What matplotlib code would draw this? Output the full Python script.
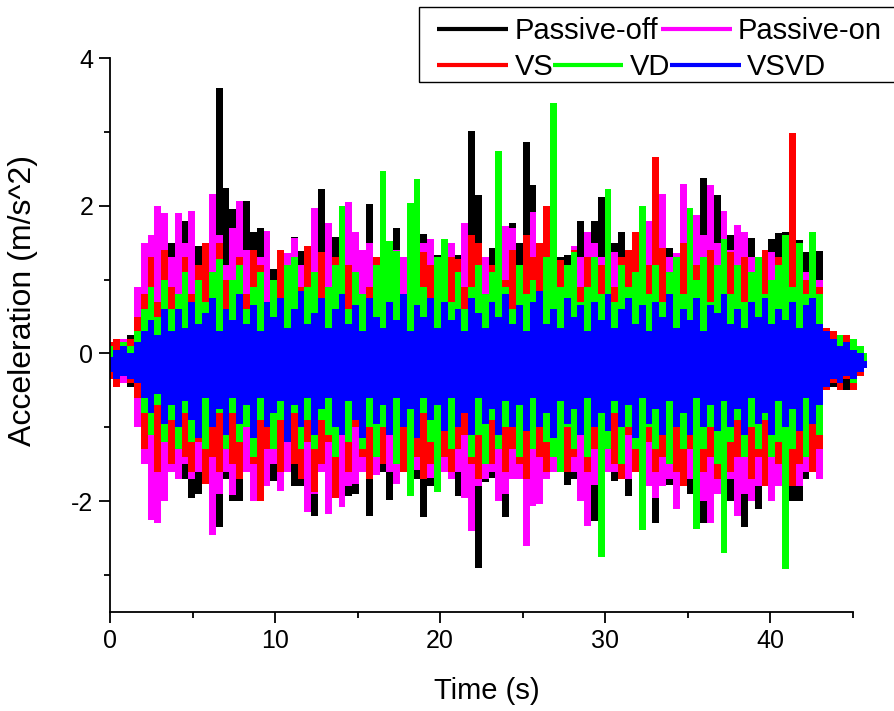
import numpy as np
import matplotlib
matplotlib.use("Agg")
import matplotlib.pyplot as plt
from matplotlib.lines import Line2D
from matplotlib.patches import Rectangle
from matplotlib.ticker import MultipleLocator

plt.rcParams["font.family"] = ["Liberation Sans", "DejaVu Sans"]
plt.rcParams["axes.unicode_minus"] = False

# sample grid (s) and upper / lower envelopes (m/s^2)
time = np.linspace(0, 45.9, 112)

passive_off_hi = [
    0.05, 0.2, 0.1, 0.25, 0.3, 0.7, 1.1, 1.3, 1.2, 1.5,
    1.82, 1.8, 1.1, 1.45, 1.0, 1.3, 3.6, 2.24, 1.96, 1.5,
    2.07, 1.65, 1.7, 1.1, 1.15, 1.0, 1.2, 1.57, 1.39, 1.0,
    1.4, 2.23, 1.31, 1.57, 1.2, 2.05, 1.3, 1.1, 2.03, 1.2,
    1.0, 1.3, 1.7, 1.2, 1.1, 1.3, 1.62, 1.2, 1.33, 1.1,
    1.2, 1.33, 1.2, 3.01, 2.15, 1.1, 1.43, 1.2, 1.5, 1.76,
    1.49, 2.86, 2.28, 1.3, 1.2, 1.1, 1.3, 1.33, 1.0, 1.79,
    1.4, 1.79, 2.12, 1.3, 1.5, 1.65, 1.2, 1.4, 1.2, 1.3,
    1.4, 1.2, 1.43, 1.3, 1.4, 1.5, 1.6, 2.38, 2.0, 2.15,
    1.7, 1.6, 1.3, 1.2, 1.56, 1.1, 1.26, 1.55, 1.63, 1.65,
    1.43, 1.53, 1.38, 1.2, 1.39, 0.35, 0.3, 0.25, 0.2, 0.15,
    0.1, -0.05]
passive_off_lo = [
    -0.3, -0.45, -0.35, -0.45, -0.5, -0.9, -1.5, -1.8, -1.6, -1.4,
    -1.57, -1.7, -1.96, -1.9, -1.76, -1.6, -2.35, -1.7, -2.0, -2.0,
    -1.5, -1.7, -1.6, -1.68, -1.73, -1.5, -1.6, -1.8, -1.8, -1.5,
    -2.2, -1.6, -1.7, -1.5, -1.6, -1.93, -1.9, -1.6, -2.2, -1.5,
    -1.6, -1.99, -1.5, -1.6, -1.4, -1.7, -2.21, -1.8, -1.5, -1.6,
    -1.7, -1.93, -1.6, -1.8, -2.9, -1.74, -1.69, -1.6, -2.21, -1.52,
    -1.5, -1.64, -1.7, -1.5, -1.6, -1.5, -1.6, -1.78, -1.7, -1.92,
    -1.6, -2.27, -1.8, -1.6, -1.72, -1.6, -1.93, -1.5, -1.74, -1.6,
    -2.29, -1.7, -1.78, -1.43, -1.7, -1.9, -1.8, -2.3, -2.1, -1.8,
    -1.6, -2.0, -1.9, -2.35, -1.8, -2.1, -1.7, -1.9, -1.6, -1.7,
    -2.0, -2.0, -1.7, -1.6, -1.5, -0.5, -0.45, -0.4, -0.49, -0.4,
    -0.3, -0.2]

passive_on_hi = [
    0.0, 0.15, 0.2, 0.15, 0.9, 1.5, 1.6, 2.0, 1.9, 1.3,
    1.9, 1.5, 1.93, 1.2, 1.4, 2.16, 1.6, 1.2, 1.7, 2.07,
    1.4, 1.2, 1.3, 1.66, 1.0, 1.36, 1.36, 1.56, 1.2, 1.3,
    1.97, 1.3, 1.76, 1.3, 1.4, 2.05, 1.65, 1.4, 1.5, 1.3,
    1.2, 1.1, 1.4, 1.3, 1.2, 1.1, 1.49, 1.55, 1.3, 1.2,
    1.5, 1.2, 1.76, 1.5, 1.4, 1.3, 1.2, 1.1, 1.73, 1.7,
    1.2, 1.4, 1.92, 1.3, 1.2, 1.4, 1.1, 1.2, 1.45, 1.3,
    1.64, 1.5, 1.3, 1.2, 1.38, 1.3, 1.2, 1.3, 1.4, 1.8,
    1.5, 2.16, 1.3, 1.36, 2.3, 1.5, 1.88, 1.6, 2.28, 1.5,
    1.93, 1.4, 1.74, 1.65, 1.3, 1.3, 1.2, 1.38, 1.2, 1.3,
    1.3, 1.2, 1.1, 1.2, 1.0, 0.3, 0.2, 0.2, 0.15, 0.1,
    0.05, -0.05]
passive_on_lo = [
    -0.3, -0.35, -0.4, -0.35, -1.0, -1.5, -2.25, -2.3, -2.0, -1.6,
    -1.7, -1.5, -1.7, -1.6, -1.5, -2.46, -1.9, -1.6, -1.92, -1.7,
    -1.6, -2.0, -1.7, -1.8, -1.5, -1.86, -1.6, -1.5, -1.4, -2.15,
    -1.9, -1.6, -2.17, -1.6, -2.08, -1.8, -1.77, -1.6, -1.7, -1.65,
    -1.5, -1.6, -1.77, -1.5, -1.4, -1.58, -1.6, -1.69, -1.5, -1.6,
    -1.7, -1.6, -1.95, -2.4, -1.8, -1.7, -1.6, -2.0, -1.9, -1.7,
    -1.7, -2.61, -2.07, -2.04, -1.7, -1.61, -1.5, -1.47, -1.6, -2.0,
    -2.34, -1.78, -1.6, -1.6, -1.6, -1.5, -1.7, -1.6, -1.7, -1.8,
    -1.95, -1.8, -1.7, -2.1, -1.8, -1.7, -1.9, -2.0, -2.3, -1.9,
    -1.8, -1.7, -2.2, -1.9, -2.0, -1.8, -1.7, -2.0, -1.8, -1.6,
    -1.7, -1.8, -1.6, -1.5, -1.7, -0.45, -0.4, -0.45, -0.35, -0.45,
    -0.3, -0.2]

vs_hi = [
    0.15, 0.2, 0.05, 0.2, 0.5, 0.8, 1.3, 0.7, 1.4, 0.9,
    0.7, 1.3, 0.8, 1.2, 1.5, 0.8, 1.5, 1.0, 0.7, 1.3,
    0.8, 1.4, 1.2, 0.7, 1.0, 1.4, 0.8, 1.2, 0.9, 1.45,
    1.0, 1.38, 0.7, 1.3, 0.9, 1.2, 1.1, 0.8, 0.9, 1.3,
    1.4, 0.8, 1.2, 0.7, 1.1, 1.3, 1.38, 1.2, 0.8, 1.1,
    1.3, 1.28, 0.9, 1.6, 1.5, 0.8, 1.2, 0.7, 1.0, 1.4,
    0.9, 1.6, 1.3, 1.5, 1.99, 0.8, 1.26, 1.0, 1.4, 0.9,
    1.3, 0.8, 1.2, 1.5, 0.9, 1.3, 1.4, 1.65, 0.9, 1.2,
    2.66, 1.43, 1.0, 0.8, 1.5, 1.66, 1.2, 0.8, 1.4, 1.1,
    0.9, 1.38, 0.8, 1.3, 0.8, 1.2, 1.4, 0.9, 1.3, 1.4,
    2.99, 1.3, 1.0, 1.2, 0.9, 0.35, 0.3, 0.2, 0.25, 0.15,
    0.1, -0.05]
vs_lo = [
    -0.35, -0.45, -0.3, -0.4, -0.6, -1.3, -1.1, -1.6, -1.2, -1.5,
    -1.0, -1.4, -1.6, -1.2, -1.77, -1.4, -1.6, -1.1, -1.5, -1.7,
    -1.0, -1.5, -2.0, -1.3, -1.1, -1.6, -1.0, -1.5, -1.7, -1.2,
    -1.88, -1.5, -1.2, -1.96, -1.1, -1.6, -1.0, -1.4, -1.7, -1.2,
    -1.5, -1.0, -1.4, -1.6, -1.1, -1.4, -1.7, -1.5, -1.0, -1.4,
    -1.6, -1.3, -1.1, -1.5, -1.7, -1.2, -1.5, -1.0, -1.6, -1.3,
    -1.5, -1.7, -1.2, -1.4, -1.6, -1.0, -1.3, -1.6, -1.4, -1.1,
    -1.6, -1.3, -1.7, -1.2, -1.5, -1.7, -1.1, -1.6, -1.3, -1.2,
    -1.6, -1.4, -1.1, -1.6, -1.8, -1.3, -1.1, -1.6, -1.4, -1.7,
    -1.2, -1.6, -1.4, -1.1, -1.7, -1.4, -1.8, -1.2, -1.5, -1.3,
    -1.8, -1.5, -1.2, -1.6, -1.3, -0.5, -0.4, -0.49, -0.35, -0.49,
    -0.3, -0.2]

vd_hi = [
    0.1, 0.05, 0.15, 0.1, 0.3, 0.6, 0.9, 0.5, 1.0, 0.6,
    0.8, 1.1, 0.6, 1.0, 0.7, 1.1, 1.28, 0.6, 1.0, 1.2,
    0.6, 0.9, 1.1, 0.5, 1.0, 0.7, 1.2, 1.3, 0.6, 0.9,
    1.1, 0.7, 0.9, 1.2, 1.99, 0.6, 1.1, 0.8, 0.6, 1.2,
    2.47, 1.52, 1.39, 0.7, 2.04, 2.36, 0.9, 0.6, 1.3, 1.55,
    0.7, 1.1, 0.6, 0.9, 1.2, 0.8, 1.1, 2.74, 0.9, 0.6,
    1.2, 0.8, 1.0, 0.7, 1.3, 3.39, 0.9, 1.2, 1.37, 0.7,
    0.9, 1.3, 0.8, 2.23, 0.7, 1.2, 0.9, 1.1, 1.99, 0.8,
    1.2, 0.7, 1.1, 1.3, 0.8, 1.97, 1.0, 1.3, 0.7, 1.2,
    1.55, 0.8, 1.2, 0.7, 1.1, 1.3, 0.8, 1.0, 1.2, 1.6,
    0.9, 1.5, 0.8, 1.65, 0.8, 0.3, 0.2, 0.25, 0.15, 0.2,
    0.1, 0.0]
vd_lo = [
    -0.25, -0.35, -0.3, -0.35, -0.4, -0.8, -1.1, -0.7, -1.2, -0.9,
    -1.3, -0.8, -1.2, -0.9, -1.3, -1.0, -0.8, -1.3, -0.8, -1.2,
    -1.0, -1.4, -0.9, -0.8, -1.3, -0.9, -1.2, -0.8, -1.3, -0.9,
    -1.3, -0.9, -1.1, -1.4, -0.8, -1.2, -0.8, -1.3, -1.0, -1.4,
    -1.0, -0.8, -1.5, -1.0, -1.93, -1.1, -0.8, -1.2, -1.88, -0.9,
    -1.3, -1.0, -0.8, -1.4, -1.1, -1.5, -0.9, -1.3, -1.0, -0.8,
    -1.4, -1.0, -1.3, -0.8, -1.2, -1.4, -1.61, -1.0, -1.3, -0.9,
    -1.4, -1.0, -2.76, -1.3, -0.8, -1.5, -1.0, -1.3, -2.39, -1.0,
    -1.3, -0.9, -1.5, -1.0, -1.3, -0.9, -2.38, -1.3, -1.0, -1.5,
    -2.7, -1.2, -0.9, -1.4, -1.0, -1.3, -0.9, -1.4, -1.2, -2.92,
    -1.3, -1.0, -1.4, -0.9, -1.1, -0.45, -0.35, -0.4, -0.3, -0.4,
    -0.25, -0.2]

vsvd_hi = [
    -0.05, 0.05, 0.1, 0.0, 0.15, 0.3, 0.45, 0.25, 0.6, 0.3,
    0.6, 0.35, 0.7, 0.4, 0.55, 0.75, 0.3, 0.6, 0.45, 0.8,
    0.4, 0.65, 0.3, 0.7, 0.5, 0.75, 0.35, 0.6, 0.85, 0.4,
    0.55, 0.75, 0.35, 0.6, 0.8, 0.4, 0.65, 0.3, 0.75, 0.5,
    0.35, 0.7, 0.45, 0.8, 0.3, 0.65, 0.5, 0.75, 0.35, 0.7,
    0.45, 0.6, 0.3, 0.75, 0.55, 0.35, 0.7, 0.5, 0.8, 0.4,
    0.65, 0.3, 0.7, 0.85, 0.4, 0.6, 0.35, 0.75, 0.5, 0.65,
    0.3, 0.7, 0.45, 0.8, 0.35, 0.6, 0.75, 0.4, 0.65, 0.3,
    0.7, 0.5, 0.8, 0.35, 0.6, 0.45, 0.75, 0.3, 0.65, 0.55,
    0.8, 0.4, 0.6, 0.35, 0.7, 0.5, 0.75, 0.4, 0.6, 0.45,
    0.7, 0.35, 0.65, 0.75, 0.4, 0.3, 0.2, 0.1, 0.15, 0.05,
    0.0, -0.1]
vsvd_lo = [
    -0.25, -0.35, -0.3, -0.35, -0.4, -0.6, -0.8, -0.55, -0.95, -0.7,
    -1.0, -0.65, -0.9, -1.15, -0.6, -1.0, -0.75, -1.1, -0.6, -0.95,
    -0.7, -1.15, -0.6, -1.0, -0.8, -0.65, -1.2, -0.7, -1.0, -0.6,
    -1.1, -0.75, -0.6, -1.0, -1.1, -0.65, -0.9, -1.15, -0.6, -0.95,
    -0.7, -1.1, -0.6, -1.0, -0.75, -1.15, -0.6, -0.9, -0.7, -1.05,
    -0.6, -1.0, -0.8, -1.1, -0.6, -0.95, -0.75, -1.1, -0.65, -1.0,
    -0.7, -1.05, -0.6, -1.0, -0.8, -1.15, -0.65, -0.95, -0.75, -1.1,
    -0.6, -1.0, -0.8, -1.05, -0.65, -1.0, -0.7, -1.15, -0.6, -0.95,
    -0.75, -1.1, -0.65, -1.0, -0.8, -1.1, -0.6, -1.0, -0.7, -1.05,
    -0.65, -1.0, -0.75, -1.1, -0.6, -0.95, -0.8, -1.1, -0.65, -1.0,
    -0.75, -1.05, -0.6, -0.95, -0.7, -0.45, -0.35, -0.4, -0.3, -0.35,
    -0.25, -0.2]

series = [
    ("Passive-off", passive_off_lo, passive_off_hi, "#000000"),
    ("Passive-on", passive_on_lo, passive_on_hi, "#ff00ff"),
    ("VS", vs_lo, vs_hi, "#ff0000"),
    ("VD", vd_lo, vd_hi, "#00ff00"),
    ("VSVD", vsvd_lo, vsvd_hi, "#0000ff"),
]

W, H = 894, 711
fig = plt.figure(figsize=(W / 100, H / 100), dpi=100)
ax = fig.add_axes([110 / W, (H - 612) / H, 742.5 / W, 554 / H])

# Origin lets the trace run past the end of the axis, so no clipping
for name, lo, hi, c in series:
    ax.fill_between(time, lo, hi, step="mid", color=c, lw=0, clip_on=False)

ax.set_xlim(0, 45)
ax.set_ylim(-3.5, 4)
ax.xaxis.set_major_locator(MultipleLocator(10))
ax.xaxis.set_minor_locator(MultipleLocator(5))
ax.yaxis.set_major_locator(MultipleLocator(2))
ax.yaxis.set_minor_locator(MultipleLocator(1))
for s in ("top", "right"):
    ax.spines[s].set_visible(False)
for s in ("left", "bottom"):
    ax.spines[s].set_linewidth(1.3)
ax.tick_params(which="major", direction="out", length=8, width=1.3, labelsize=18, pad=4)
ax.tick_params(which="minor", direction="out", length=4.5, width=1.3)

ax.set_xlabel("Time (s)", fontsize=21)
ax.xaxis.set_label_coords((487 - 110) / 742.5, -0.117)
ax.set_ylabel("Acceleration (m/s^2)", fontsize=23)
ax.yaxis.set_label_coords(-0.094 * 767 / 742.5, 0.563)

# legend box, Origin style (two rows, runs off the right edge)
def fx(x):
    return x / W


def fy(y):
    return 1 - y / H


fig.add_artist(Rectangle((fx(419), fy(82)), fx(W + 10) - fx(419), fy(7) - fy(82),
                         transform=fig.transFigure, fill=False, lw=1.0, ec="black"))
rows = [
    [(437, 508, 515, 29, 39, "Passive-off", "#000000"), (661, 732, 738, 29, 39, "Passive-on", "#ff00ff")],
    [(437, 508, 515, 65, 75, "VS", "#ff0000"), (553, 623, 630, 65, 75, "VD", "#00ff00"),
     (670, 741, 747, 65, 75, "VSVD", "#0000ff")],
]
for row in rows:
    for x0, x1, xt, yl, yb, lab, c in row:
        fig.add_artist(Line2D([fx(x0), fx(x1)], [fy(yl), fy(yl)], transform=fig.transFigure,
                              color=c, lw=3.0, solid_capstyle="butt"))
        fig.text(fx(xt), fy(yb), lab, fontsize=21, ha="left", va="baseline")

fig.savefig("out.png", dpi=100)
